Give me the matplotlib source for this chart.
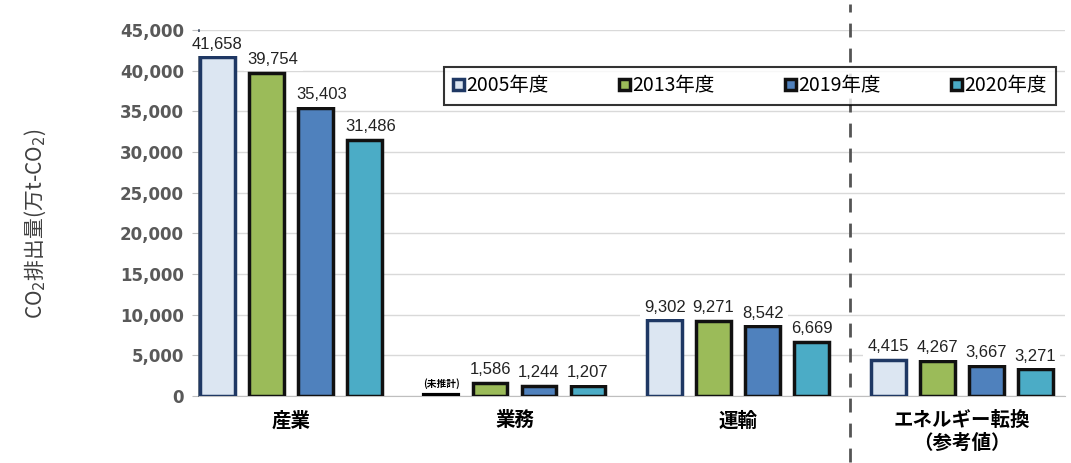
import numpy as np
import matplotlib.pyplot as plt
import matplotlib.transforms as mtransforms

plt.rcParams['font.family'] = ['Noto Sans CJK JP', 'DejaVu Sans']

categories = ['産業', '業務', '運輸', 'エネルギー転換\n（参考値）']
years = ['2005年度', '2013年度', '2019年度', '2020年度']
v2005 = [41658, 0, 9302, 4415]
v2013 = [39754, 1586, 9271, 4267]
v2019 = [35403, 1244, 8542, 3667]
v2020 = [31486, 1207, 6669, 3271]
series = [v2005, v2013, v2019, v2020]

fills = ['#dce6f2', '#9bbb59', '#4f81bd', '#4bacc6']
edges = ['#1f3864', '#111111', '#111111', '#111111']

fig = plt.figure(figsize=(10.71, 4.63), dpi=100)
ax = fig.add_axes([0.186, 0.145, 0.808, 0.79])

x = np.arange(len(categories))
step = 0.219
width = 0.156
for i, vals in enumerate(series):
    pos = x + (i - 1.5) * step
    ax.bar(pos, vals, width, color=fills[i], edgecolor=edges[i],
           linewidth=2.5, label=years[i], zorder=3)
    for j, v in enumerate(vals):
        if v == 0:
            # 業務 2005 has no estimate
            ax.plot([pos[j] - width / 2, pos[j] + width / 2], [150, 150],
                    color='black', linewidth=3, zorder=3)
            ax.text(pos[j], 800, '(未推計)', ha='center', va='bottom',
                    fontsize=7, fontweight='bold')
            continue
        ax.text(pos[j] + (0.03 if v > 30000 and i > 0 else 0), v + 700,
                f'{v:,}', ha='center', va='bottom', fontsize=12,
                color='#222222', family=['Liberation Sans', 'DejaVu Sans'],
                bbox=dict(facecolor='white', edgecolor='none', pad=3),
                zorder=4)

ax.set_xlim(-0.41, 3.46)
ax.set_ylim(0, 45000)
ax.set_yticks(np.arange(0, 45001, 5000))
ax.set_yticklabels([f'{t:,}' for t in range(0, 45001, 5000)],
                   fontsize=12, fontweight='bold', color='#595959',
                   family=['DejaVu Sans'])
ax.set_xticks(x)
ax.set_xticklabels(categories, fontsize=14, fontweight='bold',
                   linespacing=1.25)
ax.tick_params(axis='x', length=0, pad=11)
ax.tick_params(axis='y', length=5, color='#bfbfbf', pad=6)
ax.yaxis.grid(True, color='#d9d9d9', linewidth=1, zorder=0)

for s in ['top', 'right']:
    ax.spines[s].set_visible(False)
ax.spines['left'].set_color('#44546a')
ax.spines['left'].set_linewidth(1.2)
ax.spines['bottom'].set_color('#bfbfbf')

ax.set_ylabel('CO$_2$排出量(万t-CO$_2$)', fontsize=15, color='#404040')
ax.yaxis.set_label_coords(-0.175, 0.47)

# separator between end-use sectors and energy conversion
trans = mtransforms.blended_transform_factory(ax.transData, ax.transAxes)
ax.plot([2.5, 2.5], [-0.18, 1.07], transform=trans, color='#555555',
        linestyle=(0, (5, 4)), linewidth=2, clip_on=False, zorder=4)

leg = ax.legend(loc='upper left', bbox_to_anchor=(0.283, 0.9), ncol=4,
                fontsize=14, frameon=True, fancybox=False,
                edgecolor='black', handlelength=0.55, handleheight=0.55,
                handletextpad=0.15, columnspacing=3.6, borderpad=0.45,
                borderaxespad=0)
leg.get_frame().set_linewidth(1.5)
leg.set_zorder(5)

fig.savefig('out.png', dpi=100, facecolor='white')
